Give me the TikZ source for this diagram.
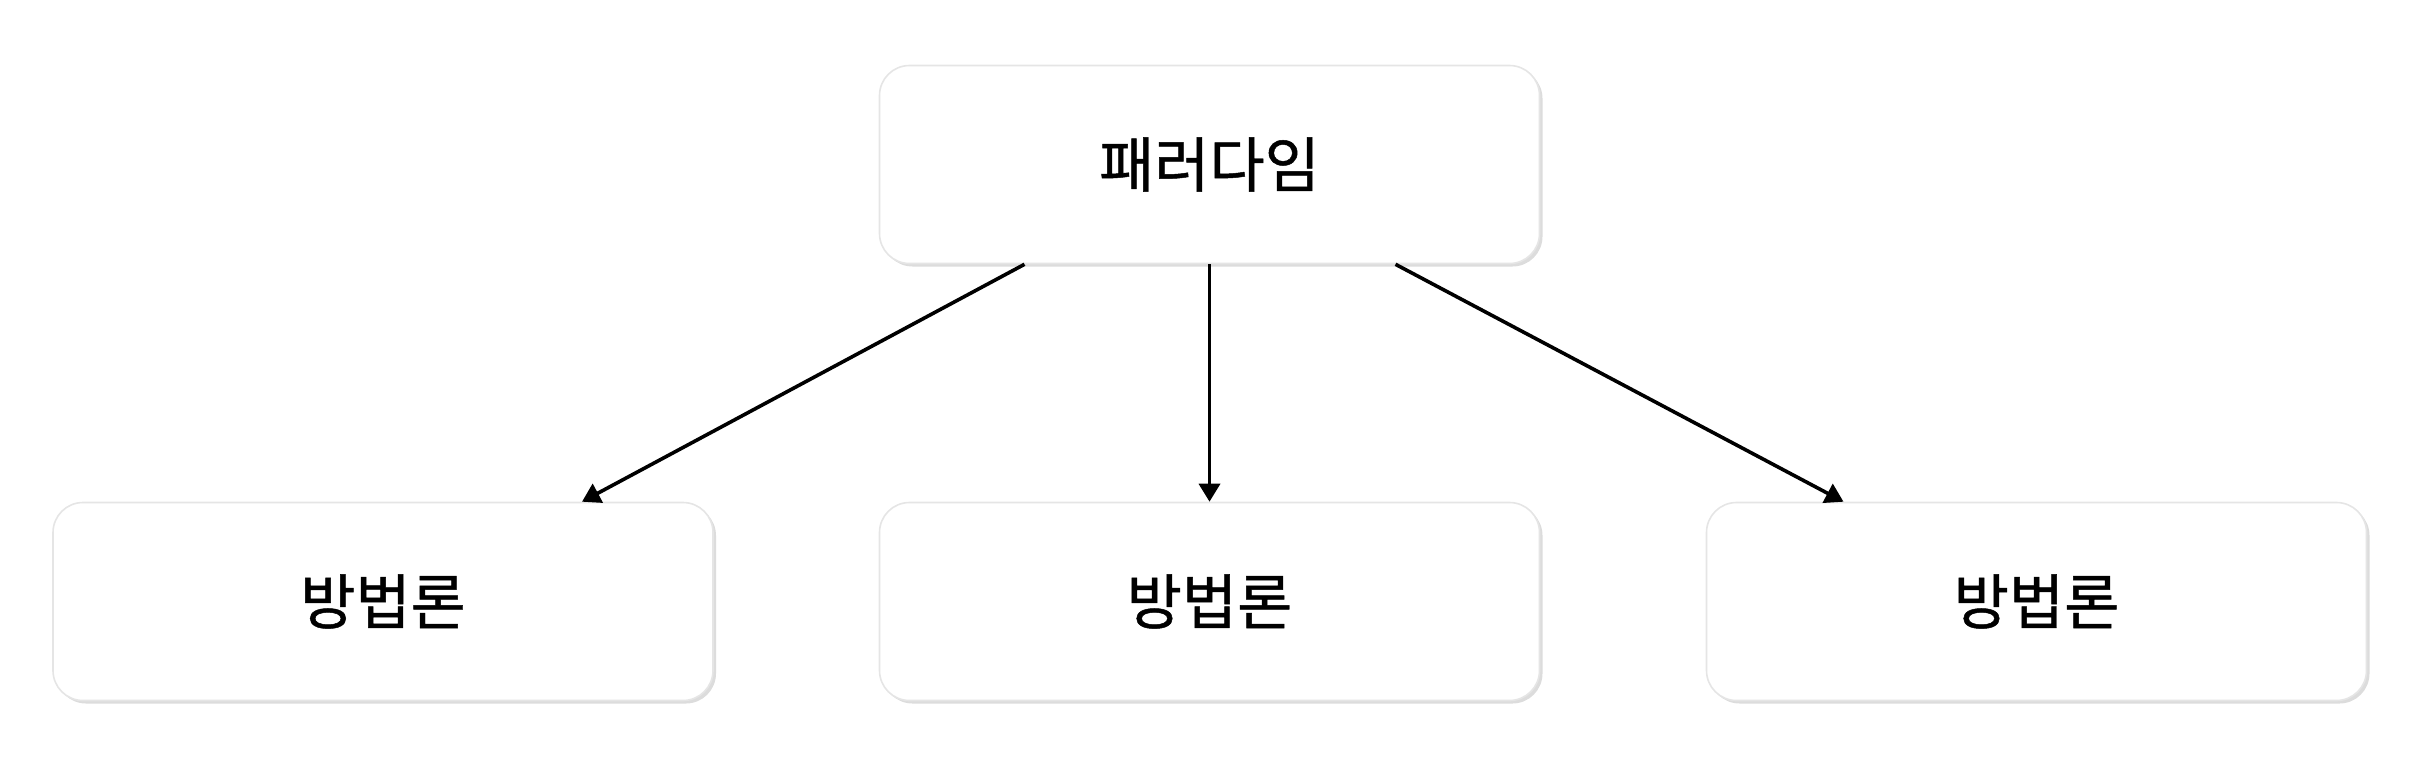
\documentclass[tikz,border=0pt]{standalone}
\usepackage{fontspec}
\usepackage{tikz}
\usetikzlibrary{shadows,arrows.meta}
\newfontfamily\korfont[FakeBold=0.8]{Noto Sans CJK KR}
\definecolor{colorS}{gray}{0.55}
\definecolor{colorB}{gray}{0.9}

\tikzset{
	box/.style={rounded corners=15pt, fill=white, draw=colorB, line width=0.8pt,
		minimum width=330pt, minimum height=99pt,
		font=\korfont\fontsize{30}{36}\selectfont,
		drop shadow={shadow xshift=1.5pt, shadow yshift=-1.5pt, fill=colorS, opacity=0.3}},
	link/.style={line width=1.8pt, -{Triangle[length=9pt, width=10.5pt]}},
}

\begin{document}
\begin{tikzpicture}[x=0.5pt, y=-0.5pt]
		\useasboundingbox (0,0) rectangle (2432,762);
		%
		\node[box] (par) at (1209.5,164.5) {패러다임};
		\node[box] (met-1) at (383,601.5) {방법론};
		\node[box] (met-2) at (1209.5,601.5) {방법론};
		\node[box] (met-3) at (2036.5,601.5) {방법론};
		%
		\draw[link] ([xshift=-92.5pt]par.south) to ([xshift=99.5pt]met-1.north);
		\draw[link] (par.south) to (met-2.north);
		\draw[link] ([xshift=93pt]par.south) to ([xshift=-96.5pt]met-3.north);
	\end{tikzpicture}
\end{document}
